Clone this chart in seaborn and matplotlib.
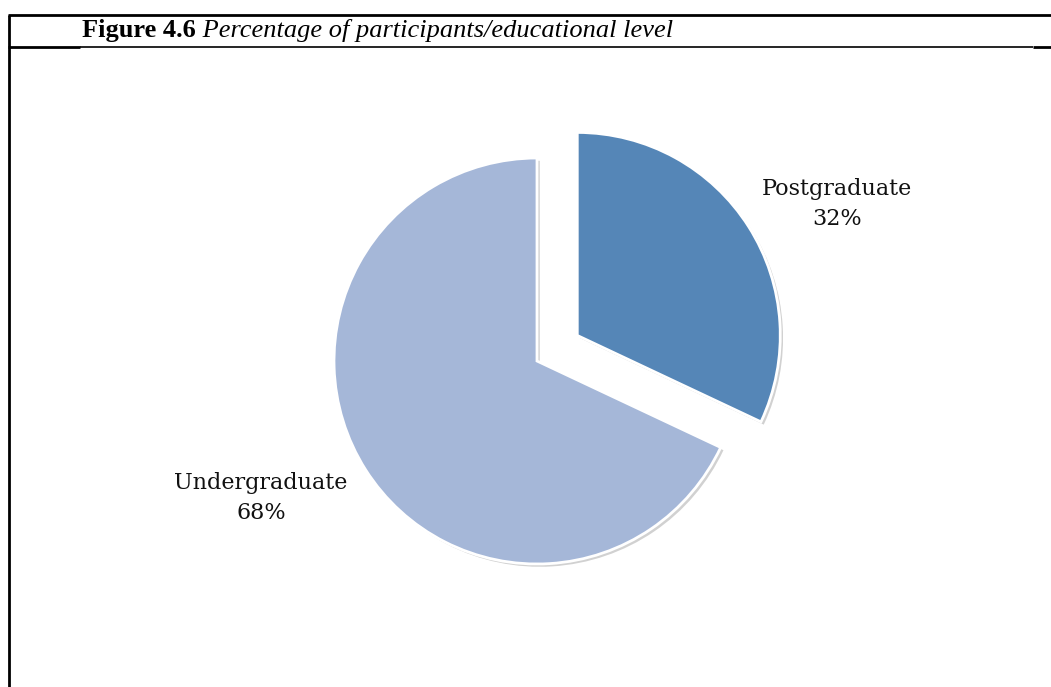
import matplotlib
matplotlib.use("Agg")
import matplotlib.pyplot as plt
import matplotlib.patheffects as pe
from matplotlib.lines import Line2D
import seaborn as sns

# Chart data
levels = ["Postgraduate", "Undergraduate"]
shares = [32, 68]
slice_colors = ["#5586B7", "#A5B7D8"]
pull_out = [0.235, 0.0]  # fraction of the radius

fig_title_bold = "Figure 4.6"
fig_title_rest = " Percentage of participants/educational level"

sns.set_theme(style="white")
plt.rcParams["font.family"] = ["DejaVu Serif", "DejaVu Sans"]

W, H = 1051, 687
fig = plt.figure(figsize=(W / 100, H / 100), dpi=100)
ax = fig.add_axes([0, 0, 1, 1])


def py(y):
    # convert a top-down pixel row into the axes' bottom-up y coordinate
    return H - y


R = 203
palette = sns.color_palette(slice_colors)
wedges, _ = ax.pie(
    shares,
    colors=palette,
    startangle=90,
    counterclock=False,
    explode=[p * R for p in pull_out],
    radius=R,
    center=(537, py(361)),
    wedgeprops=dict(edgecolor="white", linewidth=2.0),
)
for w in wedges:
    w.set_path_effects([
        pe.SimplePatchShadow(offset=(2, -2), shadow_rgbFace="#000000", alpha=0.18),
        pe.Normal(),
    ])

ax.set_xlim(0, W)
ax.set_ylim(0, H)
ax.set_aspect("equal")
ax.axis("off")

# Slice labels: name and percentage
label_pos = {"Postgraduate": (837, py(204)), "Undergraduate": (261, py(498))}
for name, val in zip(levels, shares):
    x, y = label_pos[name]
    ax.text(x, y, f"{name}\n{val}%", ha="center", va="center",
            fontsize=16, family="DejaVu Serif", color="#111111",
            linespacing=1.45)

# Caption: bold figure number followed by italic description
t1 = ax.text(82, py(37), fig_title_bold, fontsize=19, fontweight="bold",
             family="Liberation Serif", va="baseline", ha="left", color="black")
ax.annotate(fig_title_rest, xy=(1, 0), xycoords=t1, va="bottom", ha="left",
            fontsize=19, fontstyle="italic", family="Liberation Serif",
            color="black")

# Table-style frame lines
frame = [
    ((8, W), (15, 15), 2.0),
    ((9, 9), (15, H), 2.0),
    ((8, 80), (46.5, 46.5), 2.0),
    ((80, 1033), (46.5, 46.5), 1.2),
    ((1033, W), (46.5, 46.5), 2.0),
]
for xs, ys, lw in frame:
    ax.add_line(Line2D(xs, [py(v) for v in ys], color="black", linewidth=lw,
                       solid_capstyle="butt"))

fig.savefig("out.png", dpi=100)
